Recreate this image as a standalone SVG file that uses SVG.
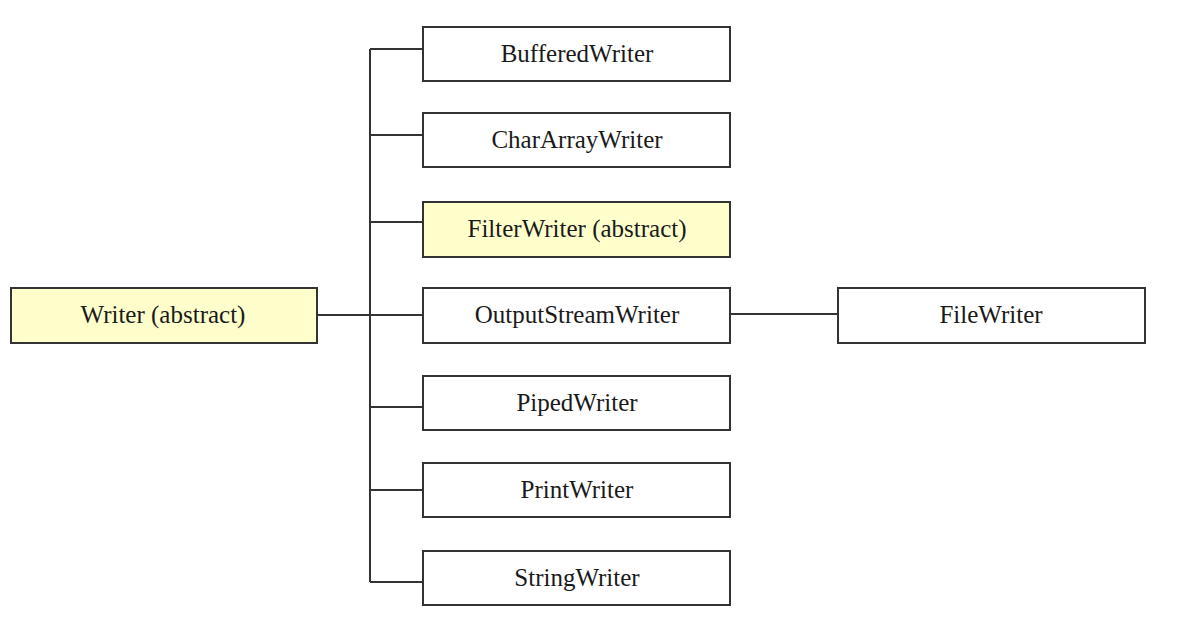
<svg xmlns="http://www.w3.org/2000/svg" width="1177" height="621" viewBox="0 0 1177 621">
<style>
.box{fill:#ffffff;stroke:#333333;stroke-width:2}
.abs{fill:#ffffcc}
.lbl{font-family:"Liberation Serif","Times New Roman",serif;font-size:25px;fill:#1a1a1a;text-anchor:middle;dominant-baseline:central}
.con{fill:none;stroke:#333333;stroke-width:2}
</style>
<rect width="1177" height="621" fill="#ffffff"/>
<g id="connectors">
<path class="con" d="M317,315 H423"/>
<path class="con" d="M370,49 V582"/>
<path class="con" d="M370,49 H423"/>
<path class="con" d="M370,135 H423"/>
<path class="con" d="M370,222 H423"/>
<path class="con" d="M370,407 H423"/>
<path class="con" d="M370,490 H423"/>
<path class="con" d="M370,582 H423"/>
<path class="con" d="M730,314 H838"/>
</g>
<g id="writer"><rect class="box abs" x="11" y="288" width="306" height="55"/><text class="lbl" x="163" y="314">Writer (abstract)</text></g>
<g id="bufferedwriter"><rect class="box" x="423" y="27" width="307" height="54"/><text class="lbl" x="577" y="53">BufferedWriter</text></g>
<g id="chararraywriter"><rect class="box" x="423" y="113" width="307" height="54"/><text class="lbl" x="577" y="139">CharArrayWriter</text></g>
<g id="filterwriter"><rect class="box abs" x="423" y="202" width="307" height="55"/><text class="lbl" x="577" y="228">FilterWriter (abstract)</text></g>
<g id="outputstreamwriter"><rect class="box" x="423" y="288" width="307" height="55"/><text class="lbl" x="577" y="314">OutputStreamWriter</text></g>
<g id="pipedwriter"><rect class="box" x="423" y="376" width="307" height="54"/><text class="lbl" x="577" y="402">PipedWriter</text></g>
<g id="printwriter"><rect class="box" x="423" y="463" width="307" height="54"/><text class="lbl" x="577" y="489">PrintWriter</text></g>
<g id="stringwriter"><rect class="box" x="423" y="551" width="307" height="54"/><text class="lbl" x="577" y="577">StringWriter</text></g>
<g id="filewriter"><rect class="box" x="838" y="288" width="307" height="55"/><text class="lbl" x="991" y="314">FileWriter</text></g>
</svg>
